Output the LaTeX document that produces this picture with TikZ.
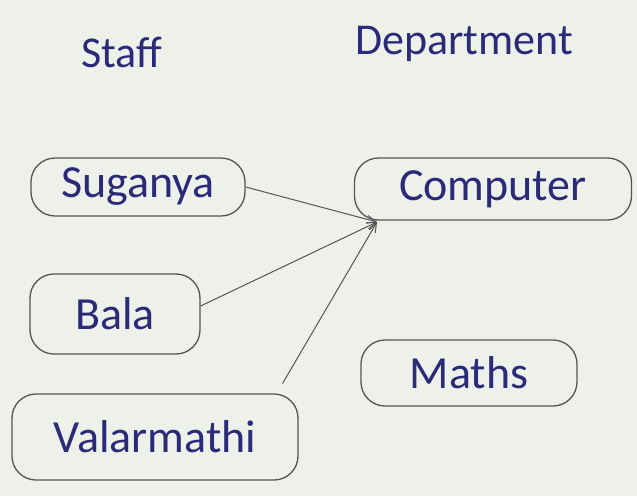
\documentclass[tikz,border=0pt]{standalone}
\usepackage{fontspec}
\setmainfont{Carlito}
\usetikzlibrary{arrows.meta}
\definecolor{paper}{HTML}{EEF0EA}
\definecolor{ink}{HTML}{2A2A78}
\definecolor{pencil}{HTML}{555555}
\tikzset{
  entity/.style={draw=pencil, line width=1.3pt, rounded corners=24pt, text=ink,
    font=\fontsize{46}{52}\selectfont, inner sep=0pt},
  heading/.style={text=ink, font=\fontsize{44}{50}\selectfont},
  link/.style={draw=pencil, line width=1pt, -{Straight Barb[length=9pt,width=8pt]}}
}
\begin{document}
\begin{tikzpicture}[x=1pt,y=-1pt]
\fill[paper] (0,0) rectangle (637,496);
\useasboundingbox (0,0) rectangle (637,496);
\node[heading] (staff) at (122,52) {Staff};
\node[heading] (dept) at (464,44) {Department};
\node[entity, minimum width=214pt, minimum height=58pt] (sug) at (138,187) {Suganya};
\node[entity, minimum width=170pt, minimum height=80pt] (bala) at (115,314) {Bala};
\node[entity, minimum width=286pt, minimum height=86pt] (val) at (155,437) {Valarmathi};
\node[entity, minimum width=277pt, minimum height=62pt] (comp) at (493,189) {Computer};
\node[entity, minimum width=216pt, minimum height=66pt] (maths) at (469,373) {Maths};
\coordinate (tip) at (377,222);
\draw[link] (sug.east) -- (tip);
\draw[link] ([yshift=8pt]bala.east) -- (tip);
\draw[link] ([xshift=-16pt,yshift=10pt]val.north east) -- (tip);
\end{tikzpicture}
\end{document}
